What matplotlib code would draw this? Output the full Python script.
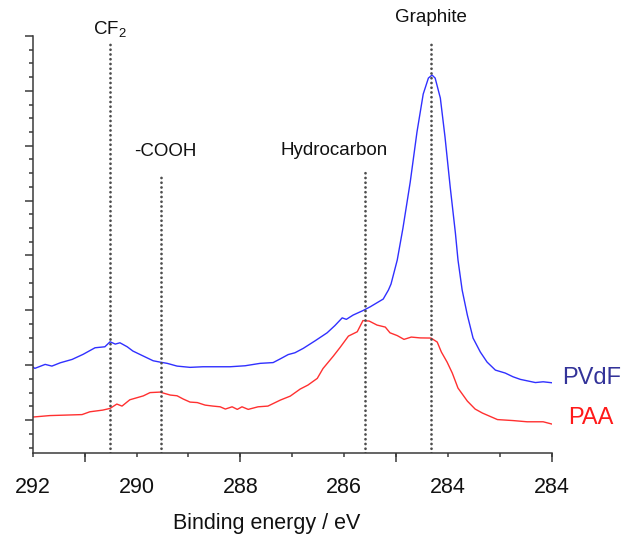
import matplotlib
matplotlib.use("Agg")
import matplotlib.pyplot as plt
import numpy as np

plt.rcParams["font.family"] = ["Liberation Sans", "DejaVu Sans"]
plt.rcParams["mathtext.default"] = "regular"

# XPS C1s spectra (binding energy in eV, intensity in arbitrary units, offset)
pvdf_energy = [292.00, 291.96, 291.76, 291.63, 291.47, 291.24, 291.03, 290.80, 290.61, 290.51,
               290.41, 290.32, 290.18, 290.07, 289.87, 289.68, 289.55, 289.41, 289.22, 288.97,
               288.72, 288.45, 288.20, 287.91, 287.62, 287.37, 287.23, 287.08, 286.95, 286.79,
               286.56, 286.33, 286.18, 286.04, 285.96, 285.83, 285.64, 285.50, 285.25, 285.15,
               285.10, 284.98, 284.87, 284.73, 284.60, 284.48, 284.38, 284.31, 284.25, 284.15,
               284.06, 283.96, 283.86, 283.81, 283.73, 283.63, 283.52, 283.38, 283.25, 283.09,
               282.90, 282.75, 282.61, 282.48, 282.32, 282.17, 282.00]
pvdf_counts = [0.972, 0.942, 1.015, 0.984, 1.044, 1.106, 1.198, 1.318, 1.336, 1.427,
               1.385, 1.409, 1.336, 1.258, 1.167, 1.081, 1.057, 1.034, 0.984, 0.961,
               0.972, 0.972, 0.972, 0.990, 1.034, 1.048, 1.117, 1.194, 1.227, 1.307,
               1.446, 1.591, 1.723, 1.863, 1.836, 1.914, 1.996, 2.065, 2.206, 2.370,
               2.479, 2.917, 3.500, 4.338, 5.250, 5.942, 6.234, 6.289, 6.234, 5.869,
               5.159, 4.247, 3.409, 2.917, 2.370, 1.914, 1.495, 1.240, 1.057, 0.911,
               0.857, 0.789, 0.742, 0.716, 0.684, 0.698, 0.680]

paa_energy = [292.00, 291.67, 291.05, 290.90, 290.65, 290.51, 290.38, 290.28, 290.13, 289.87,
              289.74, 289.55, 289.35, 289.22, 289.10, 288.97, 288.83, 288.68, 288.53, 288.39,
              288.29, 288.16, 288.06, 287.97, 287.85, 287.66, 287.47, 287.23, 287.04, 286.85,
              286.70, 286.52, 286.41, 286.21, 286.08, 285.92, 285.75, 285.64, 285.52, 285.37,
              285.21, 285.12, 284.98, 284.85, 284.71, 284.54, 284.33, 284.21, 284.13, 284.02,
              283.92, 283.81, 283.63, 283.48, 283.34, 283.05, 282.75, 282.48, 282.17, 282.00]
paa_counts = [0.055, 0.082, 0.100, 0.151, 0.182, 0.213, 0.292, 0.255, 0.370, 0.441,
              0.501, 0.510, 0.456, 0.443, 0.383, 0.328, 0.319, 0.273, 0.255, 0.242,
              0.201, 0.242, 0.195, 0.242, 0.195, 0.242, 0.255, 0.365, 0.437, 0.565,
              0.638, 0.760, 0.939, 1.167, 1.325, 1.531, 1.610, 1.814, 1.805, 1.732,
              1.695, 1.591, 1.540, 1.471, 1.513, 1.498, 1.495, 1.422, 1.240, 1.057,
              0.857, 0.583, 0.346, 0.201, 0.128, 0.009, -0.009, -0.031, -0.031, -0.073]

peak_names = ["CF$_2$", "-COOH", "Hydrocarbon", "Graphite"]
peak_energy = [290.51, 289.53, 285.60, 284.33]
peak_top = [6.87, 4.47, 4.59, 6.93]

tick_values = [292, 290, 288, 286, 284, 282]
tick_labels = ["292", "290", "288", "286", "284", "284"]

AXIS = "#3a3a3a"
DOTS = "#4d4d4d"

fig = plt.figure(figsize=(6.24, 5.38), dpi=100)
ax = fig.add_axes([0.0524, 0.158, 0.8322, 0.775])

ax.plot(pvdf_energy, pvdf_counts, color="#3030ff", linewidth=1.0)
ax.plot(paa_energy, paa_counts, color="#ff3030", linewidth=1.0)

ylo, yhi = -0.6, 7.0
for e, top in zip(peak_energy, peak_top):
    ax.plot([e, e], [ylo, top], color=DOTS, linewidth=2.0,
            linestyle=(0, (0.01, 1.7)), dash_capstyle="round")

# peak labels (offsets in eV / intensity units)
label_dx = [0.0, -0.08, 0.6, 0.0]
label_dy = [0.25, 0.42, 0.33, 0.41]
for name, e, top, dx, dy in zip(peak_names, peak_energy, peak_top, label_dx, label_dy):
    ax.text(e + dx, top + dy, name, ha="center", va="center", fontsize=13.5, color="#111111")

ax.text(281.24, 0.77, "PVdF", ha="center", va="center", fontsize=17, color="#333399", clip_on=False)
ax.text(281.26, 0.04, "PAA", ha="center", va="center", fontsize=17, color="#ff1a1a", clip_on=False)

ax.set_xlim(292, 282)
ax.set_ylim(ylo, yhi)

for side in ["top", "right"]:
    ax.spines[side].set_visible(False)
for side in ["left", "bottom"]:
    ax.spines[side].set_color(AXIS)
    ax.spines[side].set_linewidth(1.1)

# x axis: long unlabeled ticks every 3 eV, short ticks every 1 eV carrying labels
ax.xaxis.remove_overlapping_locs = False
ax.set_xticks([291, 288, 285, 282])
ax.set_xticklabels([])
minor_pos = np.arange(282, 293)
lookup = dict(zip(tick_values, tick_labels))
ax.set_xticks(minor_pos, minor=True)
ax.set_xticklabels([lookup.get(int(p), "") for p in minor_pos], minor=True)
ax.tick_params(axis="x", which="major", length=6.5, width=1.1, color=AXIS, direction="out")
ax.tick_params(axis="x", which="minor", length=3.0, width=1.1, color=AXIS, direction="out",
               labelsize=15.5, pad=14, labelcolor="#111111")

ax.set_yticks(np.arange(0, 8))
ax.set_yticks(np.arange(-0.5, 7.0, 0.25), minor=True)
ax.set_yticklabels([])
ax.tick_params(axis="y", which="major", length=5.8, width=1.1, color=AXIS)
ax.tick_params(axis="y", which="minor", length=3.2, width=1.1, color=AXIS)

ax.set_xlabel("Binding energy / eV", fontsize=15.5, color="#111111")
ax.xaxis.set_label_coords(0.451, -0.145)

fig.savefig("out.png", dpi=100)
